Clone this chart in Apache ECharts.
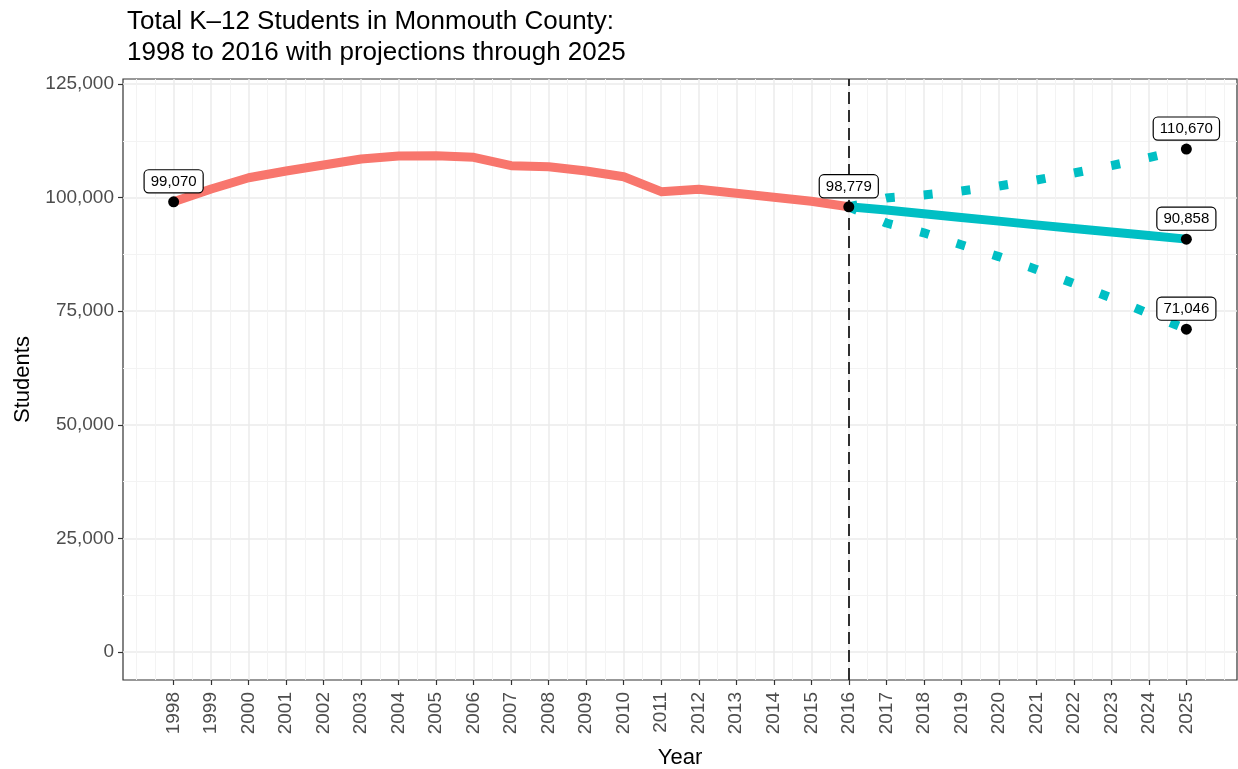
<!DOCTYPE html>
<html>
<head>
<meta charset="utf-8">
<script src="https://cdn.jsdelivr.net/npm/echarts@6/dist/echarts.min.js"></script>
<style>
  html, body {margin: 0; padding: 0; background: #fff;}
</style>
</head>
<body>
<div id="k12Chart" style="width:1238px;height:769px;"></div>
<script>
// enrolment history 1998-2016
const histYears = [1998, 1999, 2000, 2001, 2002, 2003, 2004, 2005, 2006, 2007, 2008, 2009, 2010, 2011, 2012, 2013, 2014, 2015, 2016];
const histStudents = [99070, 101890, 104380, 105850, 107170, 108500, 109150, 109220, 108870, 107020, 106800, 105850, 104600, 101300, 101820, 100950, 100060, 99180, 97970];

// projections 2016-2025
const projYears = [2016, 2017, 2018, 2019, 2020, 2021, 2022, 2023, 2024, 2025];
const projMid = [97970, 97250, 96430, 95600, 94820, 94000, 93220, 92420, 91640, 90858];
const projHigh = [97970, 99910, 100570, 101450, 102550, 103870, 105410, 107040, 108800, 110670];
const projLow = [97970, 94410, 92250, 89610, 87020, 84200, 81100, 77930, 74470, 71046];

// labelled points: year, plotted value, label value
const labelYears = [1998, 2016, 2025, 2025, 2025];
const labelValues = [99070, 97970, 110670, 90858, 71046];
const labelTexts = [99070, 98779, 110670, 90858, 71046];

const yearTicks = [1998, 1999, 2000, 2001, 2002, 2003, 2004, 2005, 2006, 2007, 2008, 2009, 2010, 2011, 2012, 2013, 2014, 2015, 2016, 2017, 2018, 2019, 2020, 2021, 2022, 2023, 2024, 2025];
const yearMinorTicks = [1997, 1997.5, 1998.5, 1999.5, 2000.5, 2001.5, 2002.5, 2003.5, 2004.5, 2005.5, 2006.5, 2007.5, 2008.5, 2009.5, 2010.5, 2011.5, 2012.5, 2013.5, 2014.5, 2015.5, 2016.5, 2017.5, 2018.5, 2019.5, 2020.5, 2021.5, 2022.5, 2023.5, 2024.5, 2025.5, 2026];
const studentTicks = [0, 25000, 50000, 75000, 100000, 125000];
const studentMinorTicks = [12500, 37500, 62500, 87500, 112500];

const RED = '#F8766D';
const TEAL = '#00BFC4';
const FONT = 'Liberation Sans';
const fmt = v => v.toLocaleString('en-US');
const zip = (xs, ys) => xs.map((x, i) => [x, ys[i]]);

const X_MIN = 1996.65, X_MAX = 2026.35;
const Y_MIN = -6160, Y_MAX = 126100;

const option = {
  animation: false,
  title: {
    text: 'Total K\u201312 Students in Monmouth County:\n1998 to 2016 with projections through 2025',
    left: 122,
    top: 1,
    textStyle: {fontFamily: FONT, fontSize: 26, fontWeight: 'normal', color: '#000', lineHeight: 31}
  },
  grid: {
    left: 123, right: 1, top: 79, bottom: 89,
    outerBoundsMode: 'none', containLabel: false,
    show: true, borderColor: '#333', borderWidth: 1.2, backgroundColor: 'transparent'
  },
  xAxis: [
    {
      type: 'value', min: X_MIN, max: X_MAX,
      name: 'Year', nameLocation: 'middle', nameGap: 67,
      nameTextStyle: {fontFamily: FONT, fontSize: 22, color: '#000'},
      axisLine: {show: false, onZero: false},
      axisTick: {show: true, length: 5, lineStyle: {color: '#333', width: 1.2}, customValues: yearTicks},
      axisLabel: {customValues: yearTicks, rotate: 90, color: '#4d4d4d', fontFamily: FONT, fontSize: 19, margin: 12, formatter: v => String(v)},
      splitLine: {show: true, lineStyle: {color: '#ebebeb', width: 1.5}}
    },
    {
      type: 'value', min: X_MIN, max: X_MAX, position: 'bottom',
      axisLine: {show: false, onZero: false},
      axisTick: {show: false, customValues: yearMinorTicks},
      axisLabel: {show: false, customValues: yearMinorTicks},
      splitLine: {show: true, lineStyle: {color: '#f3f3f3', width: 1}}
    }
  ],
  yAxis: [
    {
      type: 'value', min: Y_MIN, max: Y_MAX,
      name: 'Students', nameLocation: 'middle', nameGap: 89, nameRotate: 90,
      nameTextStyle: {fontFamily: FONT, fontSize: 22, color: '#000'},
      axisLine: {show: false, onZero: false},
      axisTick: {show: true, length: 5, lineStyle: {color: '#333', width: 1.2}, customValues: studentTicks},
      axisLabel: {customValues: studentTicks, color: '#4d4d4d', fontFamily: FONT, fontSize: 19, margin: 9, formatter: v => fmt(v)},
      splitLine: {show: true, lineStyle: {color: '#ebebeb', width: 1.5}}
    },
    {
      type: 'value', min: Y_MIN, max: Y_MAX, position: 'left',
      axisLine: {show: false, onZero: false},
      axisTick: {show: false, customValues: studentMinorTicks},
      axisLabel: {show: false, customValues: studentMinorTicks},
      splitLine: {show: true, lineStyle: {color: '#f3f3f3', width: 1}}
    }
  ],
  series: [
    {
      name: 'history', type: 'line', data: zip(histYears, histStudents),
      showSymbol: false, z: 3,
      lineStyle: {color: RED, width: 9, cap: 'butt', join: 'round'},
      markLine: {
        silent: true, symbol: 'none', label: {show: false},
        lineStyle: {color: '#000', type: [12, 6], width: 1.6},
        data: [{xAxis: 2016}]
      }
    },
    {
      name: 'projection', type: 'line', data: zip(projYears, projMid),
      showSymbol: false, z: 3,
      lineStyle: {color: TEAL, width: 9, cap: 'butt', join: 'round'}
    },
    {
      name: 'high', type: 'line', data: zip(projYears, projHigh),
      showSymbol: false, z: 3,
      lineStyle: {color: TEAL, width: 9, type: [9, 29], cap: 'butt'}
    },
    {
      name: 'low', type: 'line', data: zip(projYears, projLow),
      showSymbol: false, z: 3,
      lineStyle: {color: TEAL, width: 9, type: [9, 29], cap: 'butt'}
    },
    {
      name: 'points', type: 'scatter', z: 5,
      data: labelYears.map((y, i) => [y, labelValues[i], labelTexts[i]]),
      symbolSize: 11,
      itemStyle: {color: '#000', opacity: 1},
      label: {
        show: true, position: 'top', distance: 4,
        formatter: p => fmt(p.value[2]),
        color: '#000', fontFamily: FONT, fontSize: 15,
        backgroundColor: '#fff', borderColor: '#000', borderWidth: 1.2, borderRadius: 4,
        padding: [4, 6, 3, 6]
      }
    }
  ]
};

const chart = echarts.init(document.getElementById('k12Chart'));
chart.setOption(option);
</script>
</body>
</html>
